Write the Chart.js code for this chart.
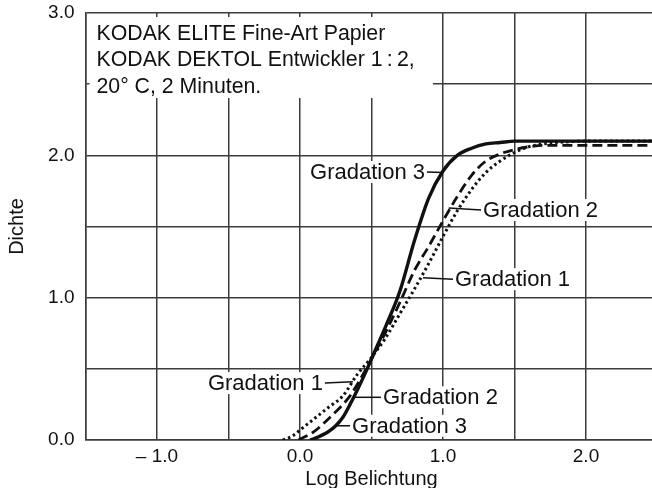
<!DOCTYPE html>
<html><head><meta charset="utf-8">
<script src="https://cdn.jsdelivr.net/npm/chart.js@4.4.1/dist/chart.umd.min.js"></script>
<style>html,body{margin:0;padding:0;background:#fff;overflow:hidden;width:652px;height:488px}canvas{display:block}</style>
</head><body>
<canvas id="c" width="658" height="488"></canvas>
<script>
const FONT = '"Liberation Sans", Arial, Helvetica, sans-serif';
const titleLines = ['KODAK ELITE Fine-Art Papier', 'KODAK DEKTOL Entwickler 1\u2009:\u20092,', '20\u00b0 C, 2 Minuten.'];
const xAxisTitle = 'Log Belichtung';
const yAxisTitle = 'Dichte';
const xTickValues = [-1, 0, 1, 2];
const xTickTexts = ['\u2013 1.0', '0.0', '1.0', '2.0'];
const yTickValues = [0, 1, 2, 3];
const yTickTexts = ['0.0', '1.0', '2.0', '3.0'];

// Gradation 1 (dotted)
const logE_grad1 = [-0.12, -0.05, 0.0, 0.1, 0.2, 0.3, 0.4, 0.5, 0.6, 0.7, 0.8, 0.9, 1.0, 1.1, 1.2, 1.3, 1.4, 1.5, 1.6, 1.7, 1.8, 2.0, 2.5];
const dens_grad1 = [0, 0.03, 0.07, 0.15, 0.23, 0.31, 0.46, 0.58, 0.72, 0.89, 1.06, 1.24, 1.43, 1.61, 1.76, 1.88, 1.96, 2.02, 2.06, 2.08, 2.09, 2.10, 2.10];
// Gradation 2 (dashed)
const logE_grad2 = [-0.01, 0.1, 0.2, 0.3, 0.35, 0.4, 0.5, 0.6, 0.7, 0.8, 0.9, 1.0, 1.1, 1.2, 1.3, 1.4, 1.5, 1.6, 1.7, 2.0, 2.5];
const dens_grad2 = [0, 0.06, 0.15, 0.25, 0.31, 0.39, 0.57, 0.76, 0.97, 1.19, 1.36, 1.54, 1.71, 1.86, 1.96, 2.01, 2.04, 2.06, 2.07, 2.07, 2.07];
// Gradation 3 (solid)
const logE_grad3 = [0.07, 0.1, 0.2, 0.25, 0.3, 0.35, 0.4, 0.47, 0.5, 0.6, 0.7, 0.8, 0.9, 1.0, 1.1, 1.2, 1.3, 1.4, 1.5, 1.7, 2.0, 2.5];
const dens_grad3 = [0, 0.01, 0.06, 0.10, 0.16, 0.25, 0.35, 0.50, 0.57, 0.80, 1.05, 1.40, 1.70, 1.89, 2.00, 2.05, 2.08, 2.09, 2.10, 2.10, 2.10, 2.10];

// curve labels: text anchor (data units), alignment, pointer target (data units)
const labelTexts = ['Gradation 3', 'Gradation 2', 'Gradation 1', 'Gradation 1', 'Gradation 2', 'Gradation 3'];
const labelAnchorX = [0.874, 1.28, 1.084, 0.16, 0.58, 0.364];
const labelAnchorY = [1.883, 1.616, 1.13, 0.40, 0.30, 0.10];
const labelAlign = ['right', 'left', 'left', 'right', 'left', 'left'];
const pointerX = [1.0, 1.04, 0.86, 0.37, 0.37, 0.25];
const pointerY = [1.88, 1.63, 1.14, 0.41, 0.30, 0.10];

const toPts = (xs, ys) => xs.map((x, i) => ({x, y: ys[i]}));
const INK = '#111';
const GRID = '#3c3c3c';

const annotPlugin = {
  id: 'annot',
  afterDatasetsDraw(chart) {
    const {ctx, chartArea: a, scales: {x, y}} = chart;
    ctx.save();
    // title block with white background
    ctx.fillStyle = '#fff';
    ctx.fillRect(a.left + 4, a.top + 4, 433 - a.left - 4, 98 - a.top - 4);
    ctx.fillStyle = INK;
    ctx.font = '21.3px ' + FONT;
    ctx.textAlign = 'left';
    ctx.textBaseline = 'alphabetic';
    titleLines.forEach((t, i) => ctx.fillText(t, a.left + 11, a.top + 27 + i * 26.3));
    // curve labels
    ctx.font = '22px ' + FONT;
    ctx.textBaseline = 'middle';
    labelTexts.forEach((t, i) => {
      const tx = x.getPixelForValue(labelAnchorX[i]);
      const ty = y.getPixelForValue(labelAnchorY[i]);
      const w = ctx.measureText(t).width;
      const left = labelAlign[i] === 'right' ? tx - w : tx;
      ctx.fillStyle = '#fff';
      ctx.fillRect(left - 1, ty - 11, w + 2, 22);
      ctx.fillStyle = INK;
      ctx.textAlign = 'left';
      ctx.fillText(t, left, ty + 1);
      const px = x.getPixelForValue(pointerX[i]);
      const py = y.getPixelForValue(pointerY[i]);
      const sx = labelAlign[i] === 'right' ? tx + 2 : tx - 2;
      ctx.strokeStyle = INK;
      ctx.lineWidth = 1.5;
      ctx.beginPath();
      ctx.moveTo(sx, ty);
      ctx.lineTo(px, py);
      ctx.stroke();
    });
    ctx.restore();
  }
};

const lineStyle = {pointRadius: 0, borderColor: INK, cubicInterpolationMode: 'monotone', fill: false, borderCapStyle: 'butt'};

new Chart(document.getElementById('c'), {
  type: 'line',
  data: {
    datasets: [
      Object.assign({label: 'Gradation 1', data: toPts(logE_grad1, dens_grad1), borderWidth: 3, borderDash: [2.5, 3]}, lineStyle),
      Object.assign({label: 'Gradation 2', data: toPts(logE_grad2, dens_grad2), borderWidth: 2.8, borderDash: [10, 5]}, lineStyle),
      Object.assign({label: 'Gradation 3', data: toPts(logE_grad3, dens_grad3), borderWidth: 3.4}, lineStyle)
    ]
  },
  options: {
    responsive: false,
    animation: false,
    devicePixelRatio: 1,
    layout: {padding: {top: 13, right: 0.5, left: 0, bottom: 0}},
    plugins: {legend: {display: false}, tooltip: {enabled: false}},
    scales: {
      x: {
        type: 'linear', min: -1.5, max: 2.5,
        afterFit: s => { s.height = 48; s.paddingLeft = 0; s.paddingRight = 0; },
        grid: {color: GRID, lineWidth: 1.5, drawTicks: false},
        border: {color: GRID, width: 1.5},
        ticks: {
          stepSize: 0.5, padding: 5, color: INK, font: {family: FONT, size: 19}, maxRotation: 0, autoSkip: false,
          callback: v => { const k = xTickValues.findIndex(t => Math.abs(t - v) < 1e-6); return k >= 0 ? xTickTexts[k] : ''; }
        },
        title: {display: true, text: xAxisTitle, color: INK, font: {family: FONT, size: 20}, padding: {top: 0, bottom: -3}}
      },
      y: {
        type: 'linear', min: 0, max: 3,
        afterFit: s => { s.width = 85.5; s.paddingTop = 0; s.paddingBottom = 0; },
        grid: {color: GRID, lineWidth: 1.5, drawTicks: false},
        border: {color: GRID, width: 1.5},
        ticks: {
          stepSize: 0.5, padding: 11, color: INK, font: {family: FONT, size: 19}, autoSkip: false,
          callback: v => { const k = yTickValues.findIndex(t => Math.abs(t - v) < 1e-6); return k >= 0 ? yTickTexts[k] : ''; }
        },
        title: {display: true, text: yAxisTitle, color: INK, font: {family: FONT, size: 20}, padding: {top: 5, bottom: 0}}
      }
    }
  },
  plugins: [annotPlugin]
});
</script>
</body></html>
